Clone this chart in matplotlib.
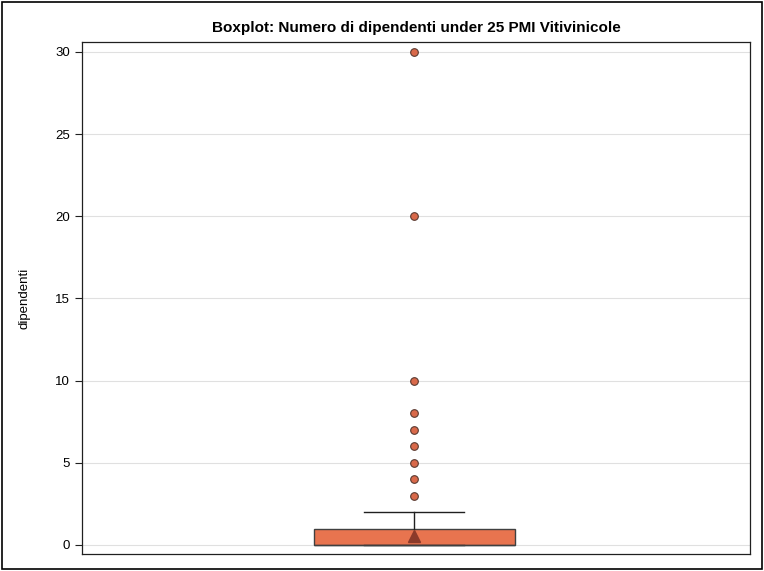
import matplotlib
matplotlib.use("Agg")
import matplotlib.pyplot as plt
from matplotlib.patches import Rectangle

plt.rcParams["font.family"] = ["Liberation Sans", "DejaVu Sans"]

# summary of "dipendenti"
q1 = 0
median = 0
q3 = 1
whisker_low = 0
whisker_high = 2
mean = 0.55
outliers = [3, 4, 5, 6, 7, 8, 10, 20, 30]
yticks = [0, 5, 10, 15, 20, 25, 30]

stats = [{
    "q1": q1, "med": median, "q3": q3,
    "whislo": whisker_low, "whishi": whisker_high,
    "mean": mean, "fliers": outliers,
}]

fig = plt.figure(figsize=(7.64, 5.71), dpi=100)
ax = fig.add_axes([0.1073, 0.0298, 0.8744, 0.8966])

ax.bxp(
    stats, positions=[-0.005], widths=0.6, patch_artist=True, showmeans=True,
    boxprops=dict(facecolor="#E8744F", edgecolor="#404040", linewidth=1),
    medianprops=dict(color="#404040", linewidth=1),
    whiskerprops=dict(color="#202020", linewidth=1),
    capprops=dict(color="#202020", linewidth=1),
    capwidths=0.3,
    flierprops=dict(marker="o", markerfacecolor="#D9694A", markeredgecolor="#5A3A30",
                    markersize=5.5, markeredgewidth=0.8),
    meanprops=dict(marker="^", markerfacecolor="#8B3A2A", markeredgecolor="#8B3A2A",
                   markersize=9),
)

ax.set_xlim(-1, 1)
ax.set_ylim(-0.55, 30.6)
ax.set_yticks(yticks)
ax.set_xticks([])
ax.grid(axis="y", color="#E0E0E0", linewidth=0.8)
ax.set_axisbelow(True)
ax.tick_params(axis="y", labelsize=9.5, length=5, color="#202020")
for s in ax.spines.values():
    s.set_color("#202020")
    s.set_linewidth(0.9)
ax.set_ylabel("dipendenti", fontsize=9.5, labelpad=18)
ax.set_title("Boxplot: Numero di dipendenti under 25 PMI Vitivinicole",
             fontsize=11, fontweight="bold", pad=7)

fig.patches.append(Rectangle((0.002, 0.003), 0.996, 0.994, transform=fig.transFigure,
                             fill=False, edgecolor="black", linewidth=1.2))

fig.savefig("out.png", dpi=100)
